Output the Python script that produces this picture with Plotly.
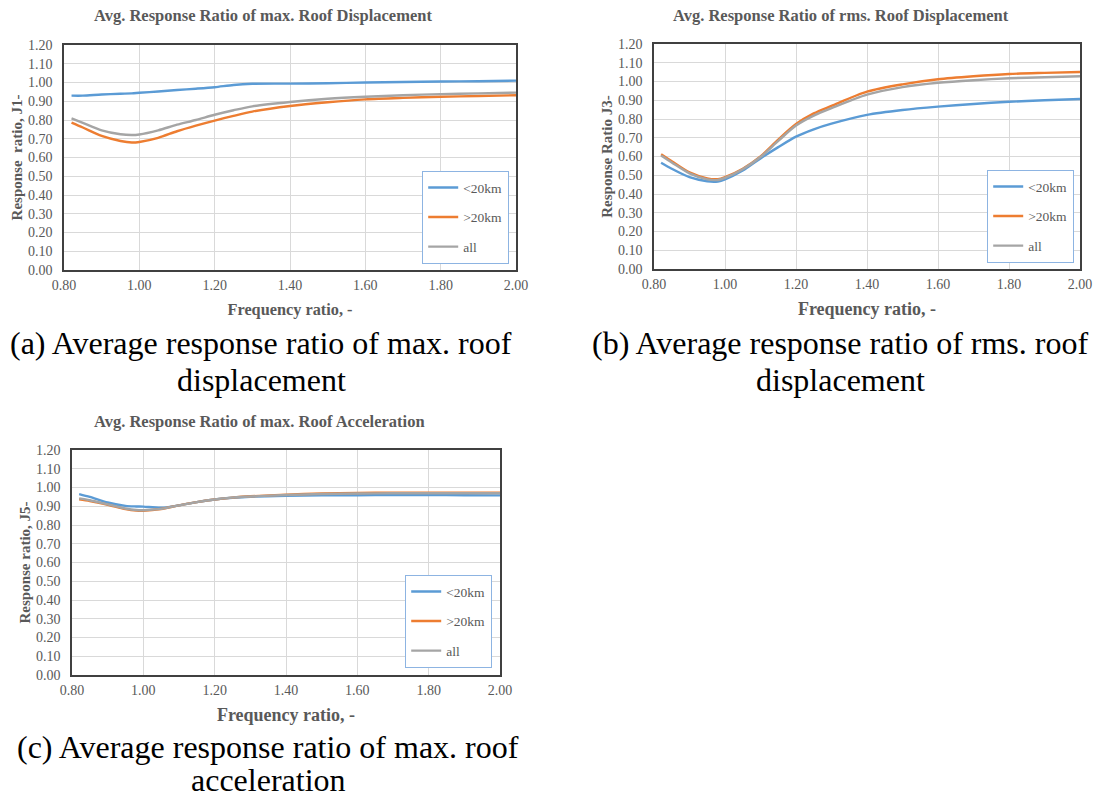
import plotly.graph_objects as go

# ---------------- data ----------------
freq = [0.82, 0.85, 0.90, 0.95, 0.98, 1.00, 1.05, 1.10, 1.15, 1.20,
        1.25, 1.30, 1.40, 1.50, 1.60, 1.70, 1.80, 1.90, 2.00]

series_names = ["<20km", ">20km", "all"]

# (a) max. roof displacement, J1
a_lt20 = [0.930, 0.930, 0.936, 0.940, 0.942, 0.945, 0.952, 0.960, 0.967, 0.975,
          0.987, 0.993, 0.994, 0.996, 1.000, 1.003, 1.005, 1.007, 1.010]
a_gt20 = [0.786, 0.760, 0.715, 0.688, 0.680, 0.683, 0.705, 0.740, 0.770, 0.797,
          0.822, 0.845, 0.875, 0.895, 0.910, 0.918, 0.924, 0.928, 0.932]
a_all = [0.809, 0.785, 0.745, 0.724, 0.720, 0.723, 0.745, 0.775, 0.800, 0.828,
         0.852, 0.873, 0.896, 0.913, 0.924, 0.932, 0.938, 0.942, 0.946]

# (b) rms. roof displacement, J3
b_lt20 = [0.567, 0.535, 0.490, 0.468, 0.467, 0.478, 0.525, 0.590, 0.650, 0.706,
          0.745, 0.775, 0.822, 0.848, 0.866, 0.880, 0.892, 0.900, 0.907]
b_gt20 = [0.612, 0.575, 0.515, 0.483, 0.479, 0.490, 0.535, 0.600, 0.690, 0.773,
          0.830, 0.870, 0.946, 0.985, 1.012, 1.028, 1.040, 1.046, 1.051]
b_all = [0.605, 0.568, 0.510, 0.478, 0.475, 0.486, 0.532, 0.597, 0.683, 0.765,
         0.818, 0.858, 0.930, 0.970, 0.993, 1.007, 1.017, 1.023, 1.028]

# (c) max. roof acceleration, J5
c_lt20 = [0.965, 0.950, 0.920, 0.902, 0.899, 0.898, 0.892, 0.905, 0.922, 0.936,
          0.945, 0.951, 0.956, 0.958, 0.959, 0.960, 0.960, 0.959, 0.958]
c_gt20 = [0.937, 0.928, 0.908, 0.885, 0.877, 0.876, 0.885, 0.905, 0.922, 0.936,
          0.946, 0.953, 0.962, 0.968, 0.971, 0.972, 0.972, 0.972, 0.972]
c_all = [0.942, 0.932, 0.910, 0.888, 0.880, 0.879, 0.886, 0.905, 0.922, 0.936,
         0.946, 0.952, 0.960, 0.965, 0.968, 0.969, 0.969, 0.969, 0.969]

x_ticks = [0.80, 1.00, 1.20, 1.40, 1.60, 1.80, 2.00]
y_ticks = [0.00, 0.10, 0.20, 0.30, 0.40, 0.50, 0.60, 0.70, 0.80, 0.90, 1.00, 1.10, 1.20]

panel_titles = ["Avg. Response Ratio of max. Roof Displacement",
                "Avg. Response Ratio of rms. Roof Displacement",
                "Avg. Response Ratio of max. Roof Acceleration"]
y_titles = ["Response  ratio, J1-", "Response Ratio J3-", "Response ratio, J5-"]
x_title = "Frequency ratio, -"
captions = [("(a) Average response ratio of max. roof", "displacement"),
            ("(b) Average response ratio of rms. roof", "displacement"),
            ("(c) Average response ratio of max. roof", "acceleration")]

# ---------------- layout helpers ----------------
W, H = 1094, 799
COLORS = ["#5B9BD5", "#ED7D31", "#A5A5A5"]
FONT = "Liberation Serif, Times New Roman, serif"
GREY_TXT = "#595959"


def px(x):
    return x / W


def py(y):
    return 1 - y / H


# plot boxes in pixels: left, right, top, bottom
boxes = [(64, 516, 45, 270), (654, 1080, 44, 269), (72, 500, 450, 675)]
legend_boxes = [(509, 171), (1074, 170), (492, 575)]   # right, top
title_pos = [(263, 16), (841, 16), (259, 421)]
caption_pos = [(261, 343, 380), (840, 343, 380), (268, 747, 780)]
xtitle_size = [16.3, 18, 18]

panels = [(a_lt20, a_gt20, a_all), (b_lt20, b_gt20, b_all), (c_lt20, c_gt20, c_all)]

fig = go.Figure()
layout = dict(width=W, height=H, margin=dict(l=0, r=0, t=0, b=0),
              paper_bgcolor="white", plot_bgcolor="white",
              font=dict(family=FONT, color=GREY_TXT), annotations=[])

for i, (vals, box) in enumerate(zip(panels, boxes)):
    sfx = "" if i == 0 else str(i + 1)
    leg = "legend" if i == 0 else f"legend{i + 1}"
    for name, v, col in zip(series_names, vals, COLORS):
        fig.add_trace(go.Scatter(
            x=freq, y=v, name=name, mode="lines",
            line=dict(color=col, width=2.4, shape="spline", smoothing=0.8),
            xaxis="x" + sfx, yaxis="y" + sfx, legend=leg,
            legendgroup=f"{i}-{name}"))
    l, r, t, b = box
    layout["xaxis" + sfx] = dict(
        domain=[px(l), px(r)], anchor="y" + sfx, range=[0.8, 2.0],
        tickvals=x_ticks, tickformat=".2f", showgrid=True, gridcolor="#D9D9D9",
        gridwidth=1, showline=True, linecolor="#404040", linewidth=1.6, mirror=True,
        zeroline=False, ticks="", ticklabelstandoff=1,
        tickfont=dict(family=FONT, size=14, color=GREY_TXT),
        title=dict(text=f"<b>{x_title}</b>", standoff=12,
                   font=dict(family=FONT, size=xtitle_size[i], color=GREY_TXT)),
        automargin=False)
    layout["yaxis" + sfx] = dict(
        domain=[py(b), py(t)], anchor="x" + sfx, range=[0, 1.2],
        tickvals=y_ticks, tickformat=".2f", showgrid=True, gridcolor="#D9D9D9",
        gridwidth=1, showline=True, linecolor="#404040", linewidth=1.6, mirror=True,
        zeroline=False, ticks="", ticklabelstandoff=7,
        tickfont=dict(family=FONT, size=14, color=GREY_TXT),
        title=dict(text=f"<b>{y_titles[i]}</b>", standoff=2,
                   font=dict(family=FONT, size=15, color=GREY_TXT)),
        automargin=False)
    lr, lt = legend_boxes[i]
    layout[leg] = dict(
        x=px(lr), y=py(lt), xanchor="right", yanchor="top",
        bgcolor="white", bordercolor="#8DB4E2", borderwidth=1.2,
        font=dict(family=FONT, size=13.5, color=GREY_TXT),
        tracegroupgap=9, traceorder="grouped", itemwidth=30)
    tx, ty = title_pos[i]
    layout["annotations"].append(dict(
        text=f"<b>{panel_titles[i]}</b>", x=px(tx), y=py(ty), xref="paper",
        yref="paper", xanchor="center", yanchor="middle", showarrow=False,
        font=dict(family=FONT, size=16.5, color=GREY_TXT)))
    cx, cy1, cy2 = caption_pos[i]
    for line, cy in zip(captions[i], (cy1, cy2)):
        layout["annotations"].append(dict(
            text=line, x=px(cx), y=py(cy), xref="paper", yref="paper",
            xanchor="center", yanchor="middle", showarrow=False,
            font=dict(family=FONT, size=32, color="black")))

fig.update_layout(**layout)
fig.write_html("out.html", config={"displayModeBar": False},
               post_script="document.body.style.margin='0px';")
